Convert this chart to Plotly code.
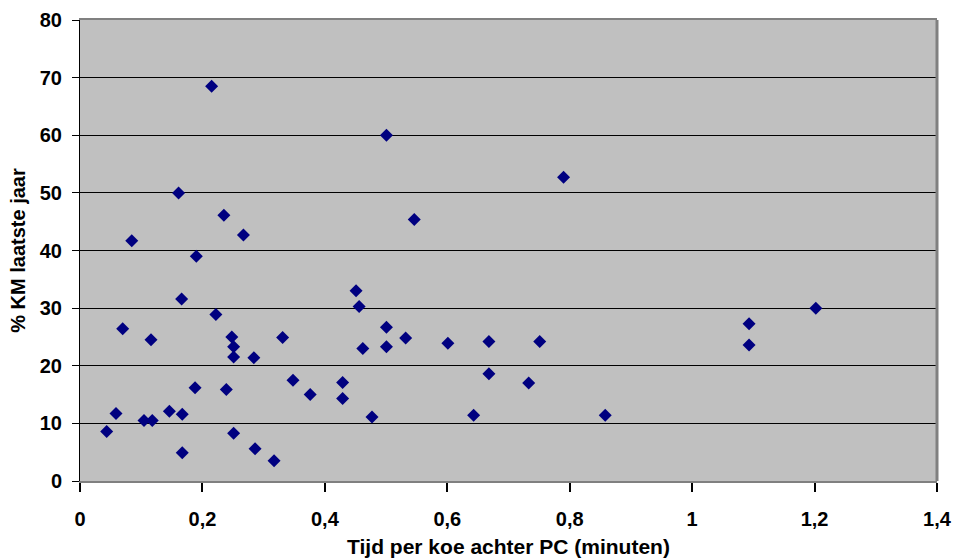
import plotly.graph_objects as go

# Time per cow behind PC (minutes)
tijd = [0.215, 0.161, 0.235, 0.267, 0.0845, 0.190,
        0.166, 0.222, 0.0697, 0.116, 0.248, 0.331, 0.251, 0.251, 0.284,
        0.348, 0.376, 0.188, 0.239, 0.0588, 0.0436, 0.1046, 0.118, 0.146,
        0.167, 0.167, 0.251, 0.286, 0.317,
        0.5006, 0.790, 0.546,
        0.451, 0.456, 0.5006, 0.532, 0.462, 0.5006, 0.601, 0.668, 0.751,
        0.668, 0.733, 0.429, 0.429, 0.477, 0.643, 0.858,
        1.093, 1.093, 1.202]
# % KM last year
km = [68.5, 50.0, 46.1, 42.7, 41.7, 39.0,
      31.6, 28.9, 26.4, 24.5, 25.0, 24.9, 23.3, 21.5, 21.4,
      17.5, 15.0, 16.2, 15.9, 11.7, 8.6, 10.5, 10.5, 12.1,
      11.6, 4.9, 8.3, 5.6, 3.5,
      60.0, 52.7, 45.4,
      33.0, 30.3, 26.7, 24.8, 23.0, 23.3, 23.9, 24.2, 24.2,
      18.6, 17.0, 17.1, 14.3, 11.1, 11.4, 11.4,
      27.3, 23.6, 30.0]

x_ticks = [0, 0.2, 0.4, 0.6, 0.8, 1.0, 1.2, 1.4]
x_labels = ["0", "0,2", "0,4", "0,6", "0,8", "1", "1,2", "1,4"]
y_ticks = [0, 10, 20, 30, 40, 50, 60, 70, 80]

font_family = "Liberation Sans, Arial, sans-serif"

fig = go.Figure()
fig.add_trace(go.Scatter(
    x=tijd, y=km, mode="markers",
    marker=dict(symbol="diamond", size=10, color="#000080",
                line=dict(width=0)),
    showlegend=False,
    cliponaxis=False,
))

fig.update_layout(
    width=957, height=560,
    margin=dict(l=80, r=20, t=20, b=79),
    paper_bgcolor="white",
    plot_bgcolor="#C0C0C0",
    font=dict(family=font_family, size=20, color="black"),
    xaxis=dict(
        range=[0, 1.4], tickvals=x_ticks, ticktext=x_labels,
        automargin=False,
        showgrid=False, zeroline=False,
        showline=True, linecolor="#808080", linewidth=2, mirror=True,
        ticks="outside", ticklen=9, tickwidth=2, tickcolor="black",
        ticklabelstandoff=10,
        tickfont=dict(family=font_family, size=20, color="black", weight="bold"),
        title=dict(text="<b>Tijd per koe achter PC (minuten)</b>",
                   font=dict(family=font_family, size=21), standoff=10),
    ),
    yaxis=dict(
        range=[0, 80], tickvals=y_ticks,
        automargin=False,
        showgrid=True, gridcolor="black", gridwidth=1, zeroline=False,
        showline=True, linecolor="black", linewidth=1,
        ticks="outside", ticklen=7, tickwidth=1, tickcolor="black",
        ticklabelstandoff=6,
        tickfont=dict(family=font_family, size=20, color="black", weight="bold"),
        title=dict(text="<b>% KM laatste jaar</b>",
                   font=dict(family=font_family, size=20), standoff=8),
    ),
)

# right border of plot area (gray frame)
fig.add_shape(type="line", xref="x domain", yref="y domain",
              x0=1, x1=1, y0=0, y1=1,
              line=dict(color="#808080", width=3))

fig.write_html("out.html")
